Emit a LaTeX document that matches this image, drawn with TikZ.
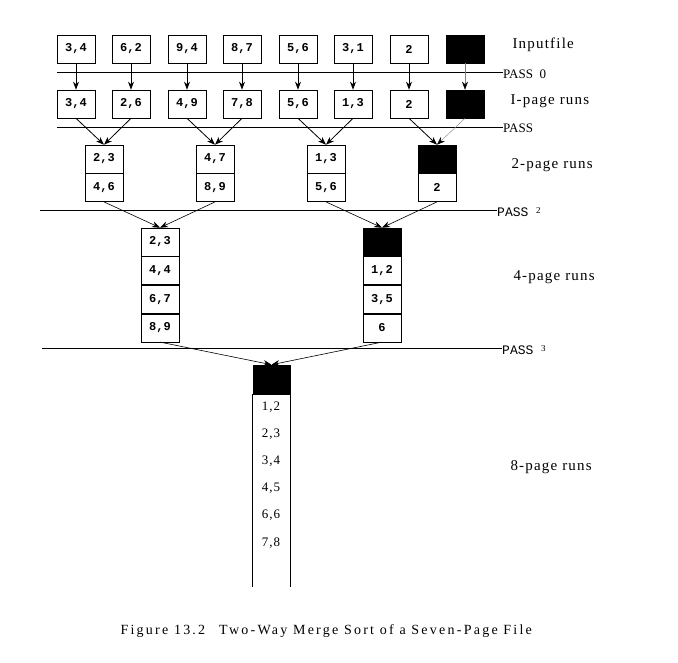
\documentclass[tikz,border=0pt]{standalone}
\usepackage{fontspec}
\setmainfont{Liberation Serif}
\newfontfamily\boxfont{Liberation Mono}
\newfontfamily\spacedfont[LetterSpace=8]{Liberation Serif}
\newfontfamily\capfont[LetterSpace=16]{Liberation Serif}
\usetikzlibrary{arrows.meta,positioning}
\tikzset{
  page/.style={draw, line width=0.6pt, minimum width=38pt, minimum height=28pt, inner sep=0pt,
               font=\boxfont\bfseries\fontsize{12}{12}\selectfont},
  blackpage/.style={page, fill=black},
  runlabel/.style={anchor=west, font=\spacedfont\fontsize{15}{15}\selectfont},
  passlabel/.style={anchor=west, inner sep=0pt, font=\rmfamily\fontsize{13}{13}\selectfont},
  passline/.style={draw, line width=0.6pt},
}
\begin{document}
\begin{tikzpicture}[x=1pt,y=-1pt]
		\useasboundingbox (0,0) rectangle (678,662);

		% input file
		\begin{scope}[every node/.style={page}]
		    \node (in-1) at (76,49) {3,4};
		    \node (in-2) at (131,49) {6,2};
		    \node (in-3) at (187,49) {9,4};
		    \node (in-4) at (242,49) {8,7};
		    \node (in-5) at (298,49) {5,6};
		    \node (in-6) at (353,49) {3,1};
		    \node (in-7) at (409,49) {2};
		    \node[fill=black] (in-8) at (465,49) {};
		\end{scope}

		% 1-page runs
		\begin{scope}[every node/.style={page}]
		    \node (r1-1) at (76,104) {3,4};
		    \node (r1-2) at (131,104) {2,6};
		    \node (r1-3) at (187,104) {4,9};
		    \node (r1-4) at (242,104) {7,8};
		    \node (r1-5) at (298,104) {5,6};
		    \node (r1-6) at (353,104) {1,3};
		    \node (r1-7) at (409,104) {2};
		    \node[fill=black] (r1-8) at (465,104) {};
		\end{scope}

		% 2-page runs
		\node[page] (r2-1a) at (104,159) {2,3};
		\node[page, below=0pt of r2-1a] (r2-1b) {4,6};
		\node[page] (r2-2a) at (215,159) {4,7};
		\node[page, below=0pt of r2-2a] (r2-2b) {8,9};
		\node[page] (r2-3a) at (326,159) {1,3};
		\node[page, below=0pt of r2-3a] (r2-3b) {5,6};
		\node[blackpage] (r2-4a) at (437,159) {};
		\node[page, below=0pt of r2-4a] (r2-4b) {2};

		% 4-page runs
		\node[page] (r3-1a) at (160,242) {2,3};
		\node[page, below=0pt of r3-1a] (r3-1b) {4,4};
		\node[page, below=0pt of r3-1b] (r3-1c) {6,7};
		\node[page, below=0pt of r3-1c] (r3-1d) {8,9};
		\node[blackpage] (r3-2a) at (382,242) {};
		\node[page, below=0pt of r3-2a] (r3-2b) {1,2};
		\node[page, below=0pt of r3-2b] (r3-2c) {3,5};
		\node[page, below=0pt of r3-2c] (r3-2d) {6};

		% 8-page run
		\node[blackpage, minimum width=37pt, minimum height=29pt] (r4-0) at (271.5,379.5) {};
		\draw[line width=0.6pt] (r4-0.south west) -- ++(0,193);
		\draw[line width=0.6pt] (r4-0.south east) -- ++(0,193);
		\begin{scope}[every node/.style={font=\spacedfont\fontsize{13}{13}\selectfont}]
		    \node (r4-1) at (271,407) {1,2};
		    \node (r4-2) at (271,434) {2,3};
		    \node (r4-3) at (271,461) {3,4};
		    \node (r4-4) at (271,488) {4,5};
		    \node (r4-5) at (271,515) {6,6};
		    \node (r4-6) at (271,543) {7,8};
		\end{scope}

		% passes
		\node[passlabel] (pass-0) at (503,74) {PASS\ \ 0};
		\node[passlabel] (pass-1) at (503,128) {PASS};
		\node[passlabel, font=\boxfont\fontsize{13}{13}\selectfont] (pass-2) at (497,212) {PASS\ \raisebox{3pt}{\rmfamily\small 2}};
		\node[passlabel, font=\boxfont\fontsize{13}{13}\selectfont] (pass-3) at (502,350) {PASS\ \raisebox{3pt}{\rmfamily\small 3}};
		\coordinate (p0) at (57,72);
		\coordinate (p1) at (57,127);
		\coordinate (p2) at (40,210);
		\coordinate (p3) at (42,348);
		\path[passline] (p0) -- (p0 -| pass-0.west);
		\path[passline] (p1) -- (p1 -| pass-1.west);
		\path[passline] (p2) -- (p2 -| pass-2.west);
		\path[passline] (p3) -- (p3 -| pass-3.west);

		% run labels
		\node[runlabel] (lab-0) at (509,45) {Inputfile};
		\node[runlabel] (lab-1) at (507,101) {I-page runs};
		\node[runlabel] (lab-2) at (508,165) {2-page runs};
		\node[runlabel] (lab-3) at (510,277) {4-page runs};
		\node[runlabel] (lab-4) at (507,467) {8-page runs};

		\begin{scope}[>={Stealth[black,length=8pt,width=6pt,inset=2.5pt]},
		              every edge/.style={draw=black,line width=0.8pt,->}]
		    \path (in-1) edge (r1-1);
		    \path (in-2) edge (r1-2);
		    \path (in-3) edge (r1-3);
		    \path (in-4) edge (r1-4);
		    \path (in-5) edge (r1-5);
		    \path (in-6) edge (r1-6);
		    \path (in-7) edge (r1-7);
		    \path (in-8) edge[draw=gray,line width=0.4pt] (r1-8);
		    \path (r1-1.south) edge (r2-1a.north);
		    \path (r1-2.south) edge (r2-1a.north);
		    \path (r1-3.south) edge (r2-2a.north);
		    \path (r1-4.south) edge (r2-2a.north);
		    \path (r1-5.south) edge (r2-3a.north);
		    \path (r1-6.south) edge (r2-3a.north);
		    \path (r1-7.south) edge (r2-4a.north);
		    \path (r1-8.south) edge[draw=gray,line width=0.4pt] (r2-4a.north);
		    \path (r2-1b.south) edge[line width=0.6pt] (r3-1a.north);
		    \path (r2-2b.south) edge[line width=0.6pt] (r3-1a.north);
		    \path (r2-3b.south) edge[line width=0.6pt] (r3-2a.north);
		    \path (r2-4b.south) edge[line width=0.6pt] (r3-2a.north);
		    \path (r3-1d.south) edge[line width=0.6pt] (r4-0.north);
		    \path (r3-2d.south) edge[line width=0.6pt] (r4-0.north);
		\end{scope}

		% caption
		\node[anchor=west, font=\capfont\fontsize{14}{14}\selectfont] (caption) at (117,631)
		    {Figure 13.2\hspace{14pt}Two-Way Merge Sort of a Seven-Page File};
\end{tikzpicture}
\end{document}
